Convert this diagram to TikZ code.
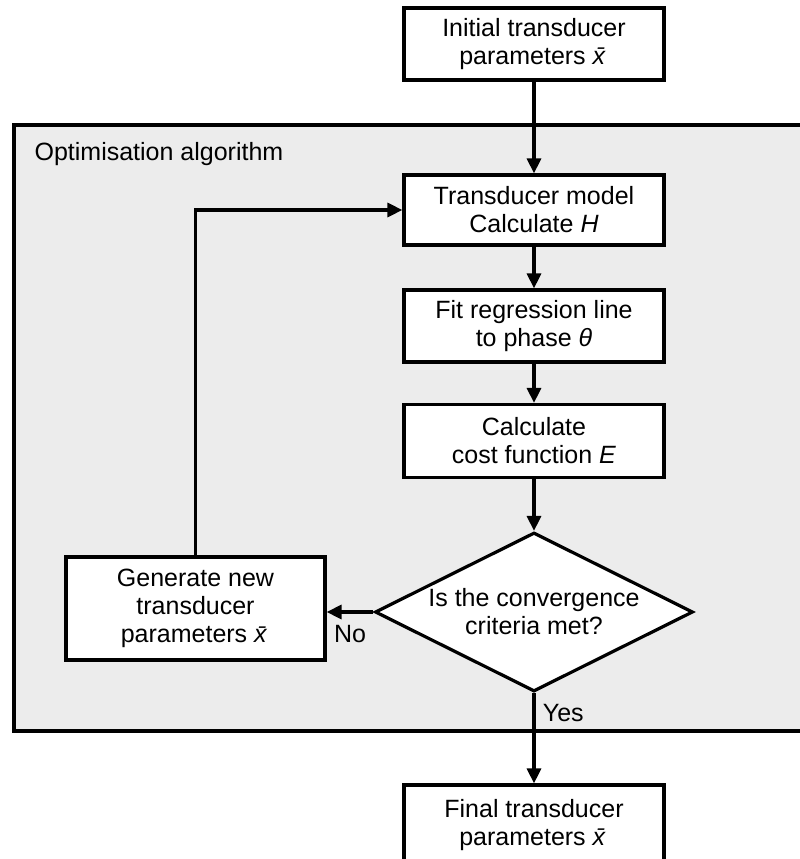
\documentclass[tikz,border=0pt]{standalone}
\usepackage{fontspec}
\setmainfont{Liberation Sans}
\usepackage{xcolor}
\usetikzlibrary{positioning,shapes.geometric,arrows.meta}
\definecolor{loopgray}{HTML}{ECECEC}
\newcommand{\xbar}{\textit{\=x}}

\begin{document}
\begin{tikzpicture}[x=1pt, y=-1pt, line width=3.2pt,
    font=\fontsize{25}{28}\selectfont,
    stepbox/.style={draw, fill=white, minimum width=260pt, minimum height=72pt, align=center, inner sep=2pt},
    arr/.style={-{Triangle[length=15pt,width=14pt]}}]
    \useasboundingbox (0,0) rectangle (800,859);
    \clip (0,0) rectangle (800,859);
    % algorithm frame
    \draw[fill=loopgray] (14,125) rectangle (820,731);
    \node[anchor=base west, inner sep=0pt] (title) at (33,160) {Optimisation algorithm};
    % steps
    \node[stepbox] (init) at (534,44) {Initial transducer\\parameters \xbar};
    \node[stepbox, minimum height=70pt] (model) at (534,210) {Transducer model\\Calculate \textit{H}};
    \node[stepbox] (fit) at (534,326) {Fit regression line\\to phase \textit{θ}};
    \node[stepbox, minimum height=73pt] (cost) at (534,441) {Calculate\\cost function \textit{E}};
    \node[draw, fill=white, shape=diamond, aspect=2, inner sep=0pt, minimum width=318pt, minimum height=159pt, align=center] (check) at (534,612) {Is the convergence\\criteria met?};
    \node[stepbox, minimum width=259pt, minimum height=103pt] (gen) at (195.5,608.5) {Generate new\\transducer\\parameters \xbar};
    \node[stepbox, minimum height=80pt] (final) at (534,825) {Final transducer\\parameters \xbar};
    % connectors
    \draw[arr] (init) -- (model);
    \draw[arr] (model) -- (fit);
    \draw[arr] (fit) -- (cost);
    \draw[arr] (cost) -- (check);
    \draw[arr] (check.west) -- node[below, yshift=-8pt] {No} (check.west -| gen.east);
    \draw[arr] (check.south) -- node[pos=0.22, right, xshift=4pt] {Yes} (final.north);
    \draw[arr] (gen.north) |- (model.west);
\end{tikzpicture}
\end{document}
